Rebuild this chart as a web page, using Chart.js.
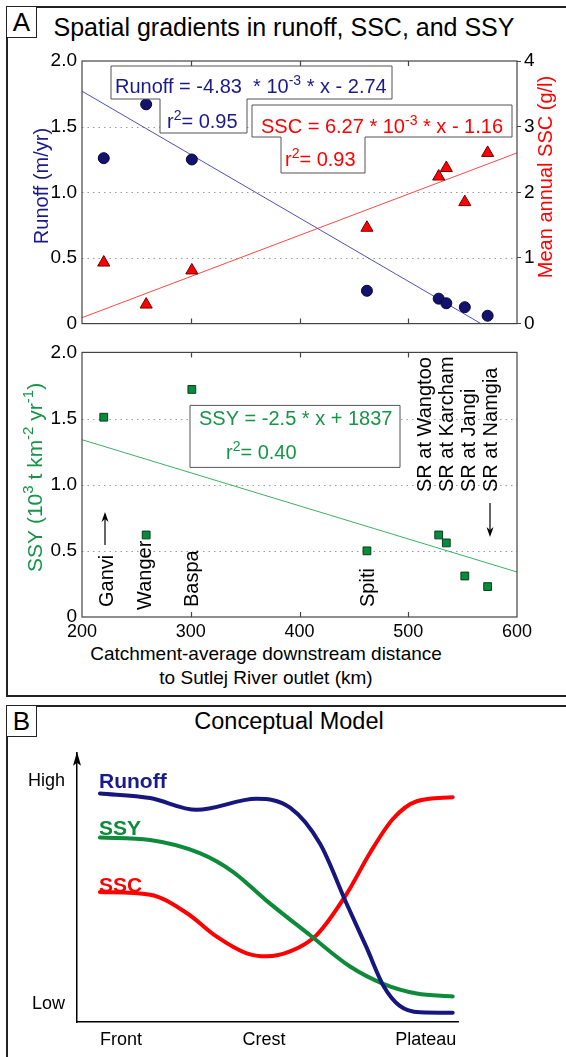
<!DOCTYPE html>
<html>
<head>
<meta charset="utf-8">
<script src="https://cdn.jsdelivr.net/npm/chart.js@4.4.1/dist/chart.umd.min.js"></script>
<style>
    html, body { margin: 0; padding: 0; background: #fff; width: 566px; height: 1057px; overflow: hidden; position: relative; font-family: "Liberation Sans", Arial, Helvetica, sans-serif; }
    .panel { position: absolute; left: 6px; width: 600px; border: 2px solid #222; }
    #panelA { top: 6px; height: 687px; }
    #panelB { top: 705px; height: 400px; }
    .tag { position: absolute; left: 6px; width: 29px; height: 30px; border: 1.5px solid #222; background: #fff; font-size: 26px; line-height: 31px; text-align: center; }
    .title { position: absolute; text-align: center; white-space: nowrap; color: #000; }
    canvas { position: absolute; left: 0; }
</style>
</head>
<body>
<div class="panel" id="panelA"></div>
<div class="panel" id="panelB"></div>
<div class="tag" style="top:6px">A</div>
<div class="tag" style="top:705px">B</div>
<div class="title" style="left:50px; width:468px; top:15px; font-size:25px; line-height:25px">Spatial gradients in runoff, SSC, and SSY</div>
<div class="title" style="left:100px; width:378px; top:709px; font-size:23.5px; line-height:24px">Conceptual Model</div>
<div class="title" style="left:66px; width:400px; top:642px; font-size:19px; line-height:24px">Catchment-average downstream distance<br>to Sutlej River outlet (km)</div>

<canvas id="chartTop" width="566" height="300" style="top:40px"></canvas>
<canvas id="chartSsy" width="566" height="309" style="top:336px"></canvas>
<canvas id="chartConcept" width="566" height="327" style="top:730px"></canvas>

<script>
// stations along the Sutlej, ordered by distance
const stations = ['Ganvi', 'Wanger', 'Baspa', 'Spiti', 'SR at Wangtoo', 'SR at Karcham', 'SR at Jangi', 'SR at Namgia']
const distance = [220, 259, 301, 462, 528, 535, 552, 573]
const runoff = [1.26, 1.67, 1.25, 0.25, 0.19, 0.155, 0.125, 0.06]
const ssc = [0.93, 0.29, 0.81, 1.46, 2.24, 2.37, 1.85, 2.60]
const ssy = [1.51, 0.62, 1.72, 0.50, 0.62, 0.56, 0.31, 0.23]

// regression lines, read at both ends of the axis
const fitRange = [200, 600]
const runoffFit = [1.77, -0.16]
const sscFit = [0.09, 2.60]
const ssyFit = [1.34, 0.34]

// conceptual model (0 = front, 100 = plateau ; 0 = low, 100 = high)
const zoneLabels = ['Front', 'Crest', 'Plateau']
const levelLabels = ['Low', 'High']
const runoffPos = [0, 14.2, 27.4, 44.4, 53.9, 62.4, 69.9, 75.6, 80.3, 85.0, 90.7, 100]
const runoffLevel = [84.9, 83.2, 78.8, 82.9, 79.6, 66.2, 44.0, 27.6, 13.6, 6.0, 3.6, 3.4]
const ssyPos = [0, 14.2, 28.3, 37.8, 47.2, 59.5, 70.9, 80.3, 89.8, 100]
const ssyLevel = [68.5, 67.6, 62.7, 55.7, 45.1, 32.3, 20.6, 14.2, 10.6, 9.5]
const sscPos = [0, 14.2, 24.6, 33.1, 41.6, 47.2, 53.9, 61.4, 69.9, 76.5, 83.1, 89.8, 100]
const sscLevel = [48.3, 47.3, 40.5, 31.7, 25.5, 24.4, 26.2, 32.3, 47.5, 62.7, 75.5, 82.0, 83.5]

const FONT = '"Liberation Sans", Arial, Helvetica, sans-serif'
const navy = '#1a1a8c'
const red = '#ff0000'
const green = '#17944a'

Chart.defaults.font.family = FONT
Chart.defaults.color = '#000'
Chart.defaults.animation = false
Chart.defaults.plugins.legend.display = false
Chart.defaults.plugins.tooltip.enabled = false

function pts(xs, ys) {
    return xs.map((x, i) => ({ x: x, y: ys[i] }))
}

// text with raised pieces: plain strings, superscripts as ['..']
function drawRich(ctx, parts, x, y, size, color, align) {
    ctx.fillStyle = color
    ctx.textBaseline = 'alphabetic'
    ctx.textAlign = 'left'
    const small = Math.round(size * 0.7)
    const pieces = parts.map(p => {
        const sup = Array.isArray(p)
        const text = sup ? p[0] : p
        ctx.font = (sup ? small : size) + 'px ' + FONT
        return { text: text, sup: sup, w: ctx.measureText(text).width }
    })
    let cx = x
    if (align == 'center') cx -= pieces.reduce((s, p) => s + p.w, 0) / 2
    pieces.forEach(p => {
        ctx.font = (p.sup ? small : size) + 'px ' + FONT
        ctx.fillText(p.text, cx, p.sup ? y - size * 0.42 : y)
        cx += p.w
    })
}

function vText(ctx, parts, x, y, size, color, align) {
    ctx.save()
    ctx.translate(x, y)
    ctx.rotate(-Math.PI / 2)
    drawRich(ctx, parts, 0, 0, size, color, align)
    ctx.restore()
}

function arrow(ctx, x, y0, y1) {
    const dir = y1 < y0 ? 1 : -1
    ctx.strokeStyle = '#000'
    ctx.fillStyle = '#000'
    ctx.lineWidth = 1.2
    ctx.beginPath()
    ctx.moveTo(x, y0)
    ctx.lineTo(x, y1 + dir * 6)
    ctx.stroke()
    ctx.beginPath()
    ctx.moveTo(x, y1)
    ctx.lineTo(x - 3.5, y1 + dir * 10)
    ctx.lineTo(x, y1 + dir * 7)
    ctx.lineTo(x + 3.5, y1 + dir * 10)
    ctx.closePath()
    ctx.fill()
}

function stepBox(ctx, l, t, r, b, l2, r2, b2) {
    ctx.beginPath()
    ctx.moveTo(l, t)
    ctx.lineTo(r, t)
    ctx.lineTo(r, b)
    ctx.lineTo(r2, b)
    ctx.lineTo(r2, b2)
    ctx.lineTo(l2, b2)
    ctx.lineTo(l2, b)
    ctx.lineTo(l, b)
    ctx.closePath()
    ctx.fillStyle = '#fff'
    ctx.fill()
    ctx.strokeStyle = '#555'
    ctx.lineWidth = 1
    ctx.stroke()
}

// dotted grid, plot box and inward ticks (matlab look)
const framePlugin = {
    id: 'frame',
    beforeDatasetsDraw(chart) {
        const { ctx, chartArea: ca, scales } = chart
        const y = scales.y
        ctx.save()
        ctx.strokeStyle = '#9a9a9a'
        ctx.lineWidth = 1
        ctx.setLineDash([1.5, 4])
        y.ticks.forEach(t => {
            if (t.value <= y.min || t.value >= y.max) return
            const py = Math.round(y.getPixelForValue(t.value)) + 0.5
            ctx.beginPath()
            ctx.moveTo(ca.left, py)
            ctx.lineTo(ca.right, py)
            ctx.stroke()
        })
        ctx.restore()
    },
    afterDraw(chart) {
        const { ctx, chartArea: ca, scales } = chart
        ctx.save()
        ctx.strokeStyle = '#444'
        ctx.lineWidth = 1.2
        ctx.strokeRect(ca.left, ca.top, ca.right - ca.left, ca.bottom - ca.top)
        scales.x.ticks.forEach(t => {
            if (t.value <= scales.x.min || t.value >= scales.x.max) return
            const px = Math.round(scales.x.getPixelForValue(t.value)) + 0.5
            ctx.beginPath()
            ctx.moveTo(px, ca.top)
            ctx.lineTo(px, ca.top + 5)
            ctx.moveTo(px, ca.bottom)
            ctx.lineTo(px, ca.bottom - 5)
            ctx.stroke()
        })
        ctx.restore()
    }
}

const topNotes = {
    id: 'topNotes',
    afterDraw(chart) {
        const ctx = chart.ctx
        const L = chart.chartArea.left, T = chart.chartArea.top
        ctx.save()
        stepBox(ctx, L + 29, T + 5, L + 310, T + 38, L + 78, L + 165, T + 72)
        drawRich(ctx, ['Runoff = -4.83  * 10', ['-3'], ' * x - 2.74'], L + 33, T + 32, 20, navy)
        drawRich(ctx, ['r', ['2'], '= 0.95'], L + 85, T + 67, 20, navy)
        stepBox(ctx, L + 170, T + 44, L + 430, T + 76, L + 199, L + 283, T + 112)
        drawRich(ctx, ['SSC = 6.27 * 10', ['-3'], ' * x - 1.16'], L + 179, T + 72, 20, red)
        drawRich(ctx, ['r', ['2'], '= 0.93'], L + 203, T + 105, 20, red)
        vText(ctx, ['Runoff (m/yr)'], 48, T + 125, 20, navy, 'center')
        vText(ctx, ['Mean annual SSC (g/l)'], 552, T + 116, 20, red, 'center')
        ctx.restore()
    }
}

const ssyNotes = {
    id: 'ssyNotes',
    afterDraw(chart) {
        const ctx = chart.ctx
        const L = chart.chartArea.left, T = chart.chartArea.top
        // baseline x and start y of each station name (page px)
        const spots = [[113, 607], [151, 610], [198, 607], [374, 607], [431, 492], [453, 492], [475, 492], [497, 492]]
        const top = chart.canvas.offsetTop
        ctx.save()
        ctx.beginPath()
        ctx.rect(L + 108, T + 53, 210, 62)
        ctx.fillStyle = '#fff'
        ctx.fill()
        ctx.strokeStyle = '#555'
        ctx.lineWidth = 1
        ctx.stroke()
        drawRich(ctx, ['SSY = -2.5 * x + 1837'], L + 117, T + 73, 20, green)
        drawRich(ctx, ['r', ['2'], '= 0.40'], L + 144, T + 107, 20, green)
        vText(ctx, ['SSY (10', ['3'], ' t km', ['-2'], ' yr', ['-1'], ')'], 42, T + 125, 21, green, 'center')
        stations.forEach((name, i) => {
            vText(ctx, [name], spots[i][0], spots[i][1] - top, 20, '#000', 'left')
        })
        arrow(ctx, 105, 545 - top, 512 - top)
        arrow(ctx, 490, 503 - top, 537 - top)
        ctx.restore()
    }
}

const conceptNotes = {
    id: 'conceptNotes',
    afterDraw(chart) {
        const { ctx, chartArea: ca } = chart
        ctx.save()
        ctx.fillStyle = '#000'
        ctx.beginPath()
        ctx.moveTo(ca.left, ca.top - 1)
        ctx.lineTo(ca.left - 4, ca.top + 13)
        ctx.lineTo(ca.left, ca.top + 10)
        ctx.lineTo(ca.left + 4, ca.top + 13)
        ctx.closePath()
        ctx.fill()
        const tags = [['Runoff', navy, 35], ['SSY', '#0d8a3a', 82], ['SSC', red, 139]]
        ctx.font = 'bold 21px ' + FONT
        ctx.textAlign = 'left'
        ctx.textBaseline = 'alphabetic'
        tags.forEach(t => {
            ctx.fillStyle = t[1]
            ctx.fillText(t[0], ca.left + 22, ca.top + t[2])
        })
        ctx.restore()
    }
}

new Chart(document.getElementById('chartTop'), {
    type: 'scatter',
    data: {
        datasets: [{
            label: 'Runoff',
            data: pts(distance, runoff),
            yAxisID: 'y',
            pointStyle: 'circle',
            pointRadius: 5.5,
            backgroundColor: '#13136e',
            borderColor: '#05053a',
            borderWidth: 1,
            order: 0
        }, {
            label: 'SSC',
            data: pts(distance, ssc),
            yAxisID: 'y2',
            pointStyle: 'triangle',
            pointRadius: 7,
            backgroundColor: red,
            borderColor: '#700000',
            borderWidth: 1,
            order: 0
        }, {
            label: 'Runoff fit',
            data: pts(fitRange, runoffFit),
            yAxisID: 'y',
            showLine: true,
            pointRadius: 0,
            borderColor: '#5050b8',
            borderWidth: 1,
            order: 1
        }, {
            label: 'SSC fit',
            data: pts(fitRange, sscFit),
            yAxisID: 'y2',
            showLine: true,
            pointRadius: 0,
            borderColor: '#ff4848',
            borderWidth: 1,
            order: 1
        }]
    },
    options: {
        responsive: false,
        layout: { padding: { top: 21, left: 0, right: 0, bottom: 0 } },
        scales: {
            x: {
                type: 'linear', min: 200, max: 600,
                ticks: { display: false, stepSize: 100 },
                grid: { display: false, drawTicks: false },
                border: { display: false },
                afterFit: s => { s.height = 7 }
            },
            y: {
                type: 'linear', position: 'left', min: 0, max: 2,
                ticks: { stepSize: 0.5, font: { size: 19 }, padding: 5, callback: v => v == 0 ? '0' : v.toFixed(1) },
                grid: { display: false, drawTicks: false },
                border: { display: false },
                afterFit: s => { s.width = 82 }
            },
            y2: {
                type: 'linear', position: 'right', min: 0, max: 4,
                ticks: { stepSize: 1, font: { size: 19 }, padding: 3 },
                grid: { drawOnChartArea: false, tickLength: 4, color: '#444' },
                border: { display: false },
                afterFit: s => { s.width = 49 }
            }
        }
    },
    plugins: [framePlugin, topNotes]
})

new Chart(document.getElementById('chartSsy'), {
    type: 'scatter',
    data: {
        datasets: [{
            label: 'SSY',
            data: pts(distance, ssy),
            pointStyle: 'rect',
            pointRadius: 5.5,
            backgroundColor: '#0a8a3c',
            borderColor: '#03401b',
            borderWidth: 1,
            order: 0
        }, {
            label: 'SSY fit',
            data: pts(fitRange, ssyFit),
            showLine: true,
            pointRadius: 0,
            borderColor: '#3cb060',
            borderWidth: 1,
            order: 1
        }]
    },
    options: {
        responsive: false,
        layout: { padding: { top: 7, left: 0, right: 49, bottom: 0 } },
        scales: {
            x: {
                type: 'linear', min: 200, max: 600,
                ticks: { stepSize: 100, font: { size: 18 }, padding: 4, maxRotation: 0 },
                grid: { display: false, drawTicks: false },
                border: { display: false },
                afterFit: s => { s.height = 28 }
            },
            y: {
                type: 'linear', min: 0, max: 2,
                ticks: { stepSize: 0.5, font: { size: 19 }, padding: 5, callback: v => v == 0 ? '0' : v.toFixed(1) },
                grid: { display: false, drawTicks: false },
                border: { display: false },
                afterFit: s => { s.width = 82 }
            }
        }
    },
    plugins: [framePlugin, ssyNotes]
})

new Chart(document.getElementById('chartConcept'), {
    type: 'scatter',
    data: {
        datasets: [{
            label: 'Runoff',
            data: pts(runoffPos, runoffLevel),
            borderColor: '#16167e'
        }, {
            label: 'SSY',
            data: pts(ssyPos, ssyLevel),
            borderColor: '#0d8a3a'
        }, {
            label: 'SSC',
            data: pts(sscPos, sscLevel),
            borderColor: red
        }].map(d => Object.assign(d, {
            showLine: true,
            pointRadius: 0,
            borderWidth: 4,
            borderCapStyle: 'round',
            cubicInterpolationMode: 'monotone'
        }))
    },
    options: {
        responsive: false,
        layout: { padding: { top: 7, left: 0, right: 108, bottom: 0 } },
        scales: {
            x: {
                type: 'linear', min: -6.5, max: 101.5,
                afterBuildTicks: s => { s.ticks = [0, 46.5, 101].map(v => ({ value: v })) },
                ticks: { font: { size: 18 }, padding: 7, align: 'inner', autoSkip: false, maxRotation: 0, callback: (v, i) => zoneLabels[i] },
                grid: { display: false, drawTicks: false },
                border: { display: true, color: '#000', width: 1.5 },
                afterFit: s => { s.height = 35 }
            },
            y: {
                type: 'linear', min: 0, max: 100,
                afterBuildTicks: s => { s.ticks = [6.7, 89.5].map(v => ({ value: v })) },
                ticks: { font: { size: 18 }, padding: 12, callback: (v, i) => levelLabels[i] },
                grid: { display: false, drawTicks: false },
                border: { display: true, color: '#000', width: 1.5 },
                afterFit: s => { s.width = 77 }
            }
        }
    },
    plugins: [conceptNotes]
})
</script>
</body>
</html>
